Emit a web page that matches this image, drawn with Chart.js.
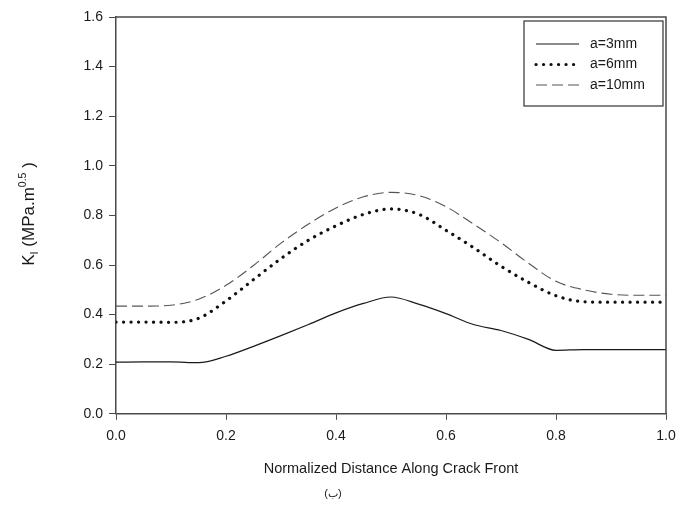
<!DOCTYPE html>
<html>
<head>
<meta charset="utf-8">
<script src="https://cdn.jsdelivr.net/npm/chart.js@4.4.1/dist/chart.umd.min.js"></script>
<style>
  html, body { margin:0; padding:0; background:#fff; }
  #wrap { width:676px; height:507px; }
</style>
</head>
<body>
<div id="wrap"><canvas id="kChart" width="676" height="507"></canvas></div>
<script>
// values
const xPos   = [0, 0.05, 0.10, 0.15, 0.20, 0.25, 0.30, 0.35, 0.40, 0.45, 0.50, 0.55, 0.60, 0.65, 0.70, 0.75, 0.80, 0.85, 0.90, 0.95, 1.0];
const a3mm   = [0.208, 0.209, 0.209, 0.206, 0.232, 0.272, 0.315, 0.360, 0.407, 0.445, 0.471, 0.442, 0.404, 0.360, 0.336, 0.300, 0.256, 0.259, 0.259, 0.259, 0.259];
const a6mm   = [0.370, 0.370, 0.369, 0.385, 0.455, 0.541, 0.626, 0.700, 0.758, 0.804, 0.826, 0.805, 0.740, 0.670, 0.595, 0.530, 0.476, 0.452, 0.450, 0.450, 0.450];
const a10mm  = [0.434, 0.434, 0.438, 0.462, 0.518, 0.598, 0.688, 0.765, 0.830, 0.875, 0.893, 0.880, 0.835, 0.765, 0.690, 0.607, 0.534, 0.500, 0.482, 0.478, 0.478];
const seriesLabels = ["a=3mm", "a=6mm", "a=10mm"];
const xTitle = "Normalized Distance Along Crack Front";
const caption = "(ب)";

const FONT = "'Liberation Sans', Arial, sans-serif";
const INK = "#1a1a1a";
const AXIS = "#4a4a4a";

function pts(ys){
    return xPos.map((x,i)=>({ x:x, y:ys[i] }));
}

// frame, y title with sub/superscript, inside legend
const extras = {
    id:"extras",
    afterDraw(chart){
        const ctx = chart.ctx;
        const a = chart.chartArea;
        ctx.save();
        // top + right frame
        ctx.strokeStyle = AXIS;
        ctx.lineWidth = 1.5;
        ctx.beginPath();
        ctx.moveTo(a.left, a.top);
        ctx.lineTo(a.right, a.top);
        ctx.lineTo(a.right, a.bottom);
        ctx.stroke();

        // y axis title: K_I (MPa.m^0.5 )
        const parts = [
            { t:"K", size:17, dy:0 },
            { t:"I", size:11, dy:4 },
            { t:" (MPa.m", size:17, dy:0 },
            { t:"0.5", size:10.5, dy:-8 },
            { t:" )", size:17, dy:0 }
        ];
        let total = 0;
        parts.forEach(p=>{
            ctx.font = p.size + "px " + FONT;
            p.w = ctx.measureText(p.t).width;
            total += p.w;
        });
        ctx.translate(34, 214);
        ctx.rotate(-Math.PI/2);
        ctx.fillStyle = INK;
        ctx.textBaseline = "alphabetic";
        let cx = -total/2;
        parts.forEach(p=>{
            ctx.font = p.size + "px " + FONT;
            ctx.fillText(p.t, cx, p.dy);
            cx += p.w;
        });
        ctx.setTransform(1,0,0,1,0,0);

        // legend box
        const bx = 524, by = 21, bw = 139, bh = 85;
        ctx.strokeStyle = "#333";
        ctx.lineWidth = 1.2;
        ctx.fillStyle = "#fff";
        ctx.fillRect(bx, by, bw, bh);
        ctx.strokeRect(bx, by, bw, bh);
        ctx.font = "14px " + FONT;
        ctx.textBaseline = "middle";
        chart.data.datasets.forEach((ds,i)=>{
            const y = by + 23 + i*20.5;
            ctx.save();
            ctx.strokeStyle = ds.borderColor;
            ctx.lineWidth = ds.borderWidth;
            ctx.lineCap = ds.borderCapStyle || "butt";
            ctx.setLineDash(ds.borderDash || []);
            ctx.beginPath();
            ctx.moveTo(bx + 12, y);
            ctx.lineTo(bx + 55, y);
            ctx.stroke();
            ctx.restore();
            ctx.fillStyle = INK;
            ctx.fillText(ds.label, bx + 66, y);
        });
        ctx.restore();
    }
};

new Chart(document.getElementById("kChart"),{
    type:"line",
    data:{
        datasets:[
            {
                label:seriesLabels[0],
                data:pts(a3mm),
                borderColor:"#1a1a1a",
                borderWidth:1.2,
                pointRadius:0,
                fill:false,
                cubicInterpolationMode:"monotone"
            },
            {
                label:seriesLabels[1],
                data:pts(a6mm),
                borderColor:"#111",
                borderWidth:3.2,
                borderDash:[0.1, 7.4],
                borderCapStyle:"round",
                pointRadius:0,
                fill:false,
                cubicInterpolationMode:"monotone"
            },
            {
                label:seriesLabels[2],
                data:pts(a10mm),
                borderColor:"#555",
                borderWidth:1.1,
                borderDash:[11, 5],
                pointRadius:0,
                fill:false,
                cubicInterpolationMode:"monotone"
            }
        ]
    },
    options:{
        responsive:false,
        animation:false,
        layout:{ padding:{ left:0, top:17, right:10, bottom:0 } },
        plugins:{
            legend:{ display:false },
            tooltip:{ enabled:false },
            subtitle:{
                display:true,
                text:caption,
                position:"bottom",
                color:INK,
                font:{ family:FONT, size:11 },
                padding:{ top:0, bottom:6 }
            }
        },
        scales:{
            x:{
                type:"linear",
                min:0,
                max:1,
                afterFit(s){ s.height = 74; s.paddingLeft = 0; s.paddingRight = 0; },
                ticks:{
                    stepSize:0.2,
                    color:INK,
                    padding:8,
                    font:{ family:FONT, size:14 },
                    callback:v=>v.toFixed(1)
                },
                grid:{ drawOnChartArea:false, tickLength:6, color:AXIS, lineWidth:1 },
                border:{ color:AXIS, width:1.5 },
                title:{
                    display:true,
                    text:xTitle,
                    color:INK,
                    font:{ family:FONT, size:14.5 },
                    padding:{ top:0, bottom:10 }
                }
            },
            y:{
                min:0,
                max:1.6,
                afterFit(s){ s.width = 116; },
                ticks:{
                    stepSize:0.2,
                    color:INK,
                    padding:6,
                    font:{ family:FONT, size:14 },
                    callback:v=>v.toFixed(1)
                },
                grid:{ drawOnChartArea:false, tickLength:7, color:AXIS, lineWidth:1 },
                border:{ color:AXIS, width:1.5 }
            }
        }
    },
    plugins:[extras]
});
</script>
</body>
</html>
